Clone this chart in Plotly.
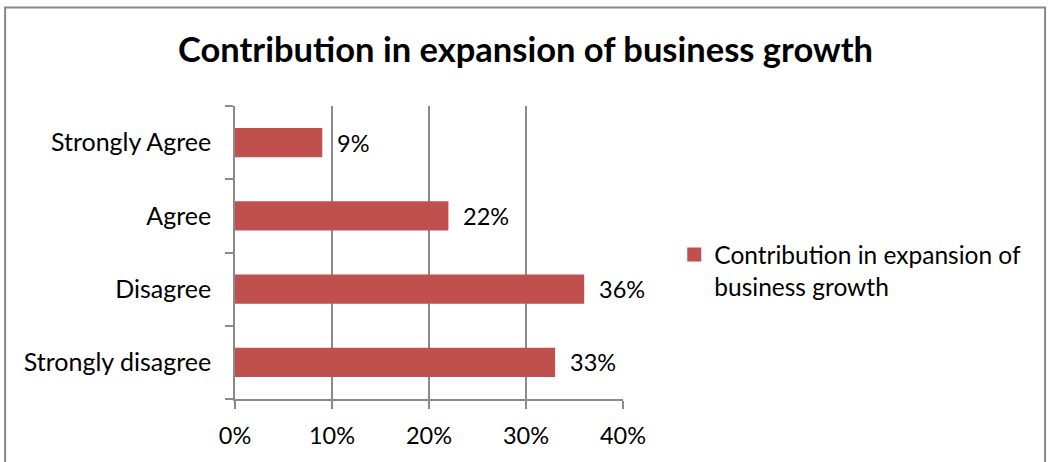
import plotly.graph_objects as go

# Survey responses, listed bottom-to-top as drawn on the category axis
categories = ["Strongly disagree", "Disagree", "Agree", "Strongly Agree"]
shares = [33, 36, 22, 9]
tick_values = [0, 10, 20, 30, 40]
tick_labels = ["0%", "10%", "20%", "30%", "40%"]
series_name = "Contribution in expansion of business growth"

W, H = 1049, 462
L, R, T, B = 234.5, 622.7, 105.7, 399.0
FONT = "Lato"
GRID = "#8a8a8a"
BAR = "#C0504D"

fig = go.Figure()
fig.add_trace(go.Bar(
    y=categories, x=shares, orientation="h",
    marker=dict(color=BAR, line=dict(width=0)),
    name=series_name, showlegend=False,
))
# legend entry with a larger square swatch in the bar colour
fig.add_trace(go.Scatter(
    x=[None], y=[None], mode="markers",
    marker=dict(symbol="square", size=14, color=BAR),
    name="Contribution in expansion of<br>business growth",
    showlegend=True,
))

# value labels to the right of each bar
for c, v in zip(categories, shares):
    fig.add_annotation(x=v, y=c, text=f"{v}%", showarrow=False,
                       xanchor="left", xshift=13,
                       font=dict(family=FONT, size=23.5, color="#000"))

pw, ph = R - L, B - T
def px_x(p):
    return (p - L) / pw
def px_y(p):
    return (B - p) / ph

# outer chart frame
fig.add_shape(type="rect", xref="paper", yref="paper",
              x0=px_x(4.5), x1=px_x(1045), y0=px_y(475), y1=px_y(7),
              line=dict(color="#878787", width=2), fillcolor="rgba(0,0,0,0)",
              layer="below")

fig.update_layout(
    width=W, height=H,
    margin=dict(l=L, r=W - R, t=T, b=H - B, pad=0),
    paper_bgcolor="white", plot_bgcolor="white",
    bargap=0.6,
    title=dict(text="<b>" + series_name + "</b>", x=525.5 / W, xanchor="center",
               y=1 - 50 / H, yanchor="middle",
               font=dict(family=FONT, size=34.5, color="#000")),
    font=dict(family=FONT, size=24, color="#000"),
    legend=dict(x=px_x(674), y=px_y(232), xanchor="left", yanchor="top",
                valign="top", bgcolor="rgba(0,0,0,0)",
                font=dict(family=FONT, size=24.5, color="#000"),
                itemwidth=30, tracegroupgap=0),
    xaxis=dict(range=[0, 40], tickvals=tick_values, ticktext=tick_labels,
               showgrid=True, gridcolor=GRID, gridwidth=1.5,
               showline=True, linecolor=GRID, linewidth=1.5,
               ticks="outside", ticklen=8, tickcolor=GRID, tickwidth=1.5,
               ticklabelstandoff=7, tickfont=dict(size=23.5),
               zeroline=False, fixedrange=True),
    yaxis=dict(showgrid=False, showline=True, linecolor=GRID, linewidth=1.5,
               ticks="outside", ticklen=8, tickcolor=GRID, tickwidth=1.5,
               tickson="boundaries", ticklabelstandoff=17,
               tickfont=dict(size=25),
               zeroline=False, fixedrange=True),
)

fig.write_html("out.html")
